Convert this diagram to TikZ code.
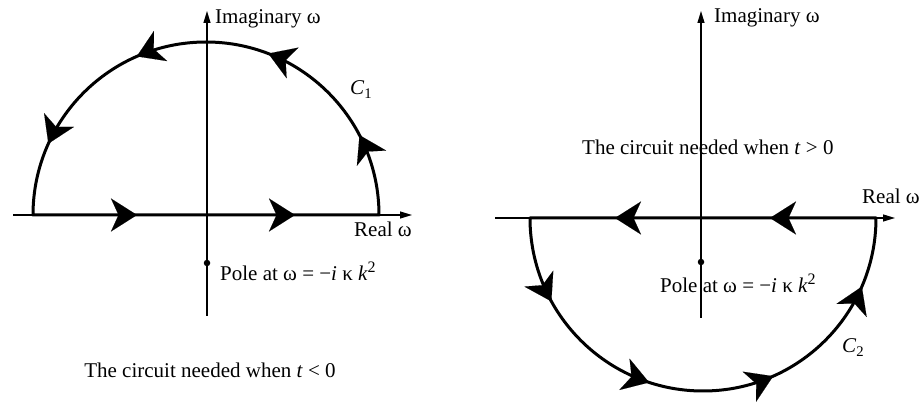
\documentclass[tikz,border=0pt]{standalone}
\usepackage{fontspec}
\setmainfont{Liberation Serif}
\usetikzlibrary{arrows.meta,decorations.markings}
\newcommand\contourtip{\arrow{Stealth[length=26pt,width=33pt,inset=7.5pt,line width=0.1pt]}}
\newcommand\sqr{\raisebox{0.42em}{\fontsize{16}{16}\selectfont 2}}
\tikzset{
  axis/.style={line width=1.2pt, -{Triangle[length=12pt,width=7pt]}},
  contour/.style={line width=3pt, line join=round, postaction={decorate}},
  lbl/.style={font=\fontsize{21}{25}\selectfont, inner sep=0pt},
  poledot/.style={circle, fill=black, inner sep=0pt, minimum size=6.5pt}
}
\begin{document}
\begin{tikzpicture}[x=1pt,y=1pt]
\useasboundingbox (0,0) rectangle (922,402);
% ---------- left diagram ----------
\coordinate (LxA) at (13,187);
\coordinate (LxB) at (412,187);
\coordinate (LyA) at (207,86);
\coordinate (LyB) at (207,391);
\coordinate (LcA) at (33,187);
\coordinate (LcB) at (379,187);
\draw[axis] (LxA) -- (LxB);
\draw[axis] (LyA) -- (LyB);
\draw[contour, decoration={markings,
   mark=at position 104pt with {\contourtip},
   mark=at position 262pt with {\contourtip},
   mark=at position 429pt with {\contourtip},
   mark=at position 554pt with {\contourtip},
   mark=at position 689pt with {\contourtip},
   mark=at position 816pt with {\contourtip}}]
  (LcA) -- (LcB) arc[start angle=0, end angle=180, radius=173] -- cycle;
\node[poledot] (Lpoledot) at (207,139) {};
\node[lbl, anchor=base west] (Limag) at (215,378) {Imaginary ω};
\node[lbl, anchor=base west] (LC) at (350,307) {\textit{C}\textsubscript{1}};
\node[lbl, anchor=base west] (Lreal) at (354,165) {Real ω};
\node[lbl, anchor=base west] (Lpole) at (220,121) {Pole at ω = −\textit{i} κ \textit{k}\sqr};
\node[lbl, anchor=base] (Lcap) at (210,24) {The circuit needed when \textit{t} < 0};
% ---------- right diagram ----------
\coordinate (RxA) at (495,184);
\coordinate (RxB) at (895,184);
\coordinate (RyA) at (701,84);
\coordinate (RyB) at (701,391);
\coordinate (RcA) at (876,184);
\coordinate (RcB) at (530,184);
\draw[axis] (RxA) -- (RxB);
\draw[axis] (RyA) -- (RyB);
\draw[contour, decoration={markings,
   mark=at position 106pt with {\contourtip},
   mark=at position 261pt with {\contourtip},
   mark=at position 433pt with {\contourtip},
   mark=at position 563pt with {\contourtip},
   mark=at position 690pt with {\contourtip},
   mark=at position 819pt with {\contourtip}}]
  (RcA) -- (RcB) arc[start angle=180, end angle=360, radius=173] -- cycle;
\node[poledot] (Rpoledot) at (701,140) {};
\node[lbl, anchor=base west] (Rimag) at (714,379) {Imaginary ω};
\node[lbl, anchor=base west] (Rcap) at (582,247) {The circuit needed when \textit{t} > 0};
\node[lbl, anchor=base west] (Rreal) at (862,198) {Real ω};
\node[lbl, anchor=base west] (Rpole) at (660,109) {Pole at ω = −\textit{i} κ \textit{k}\sqr};
\node[lbl, anchor=base west] (RC) at (842,49) {\textit{C}\textsubscript{2}};
\end{tikzpicture}
\end{document}
